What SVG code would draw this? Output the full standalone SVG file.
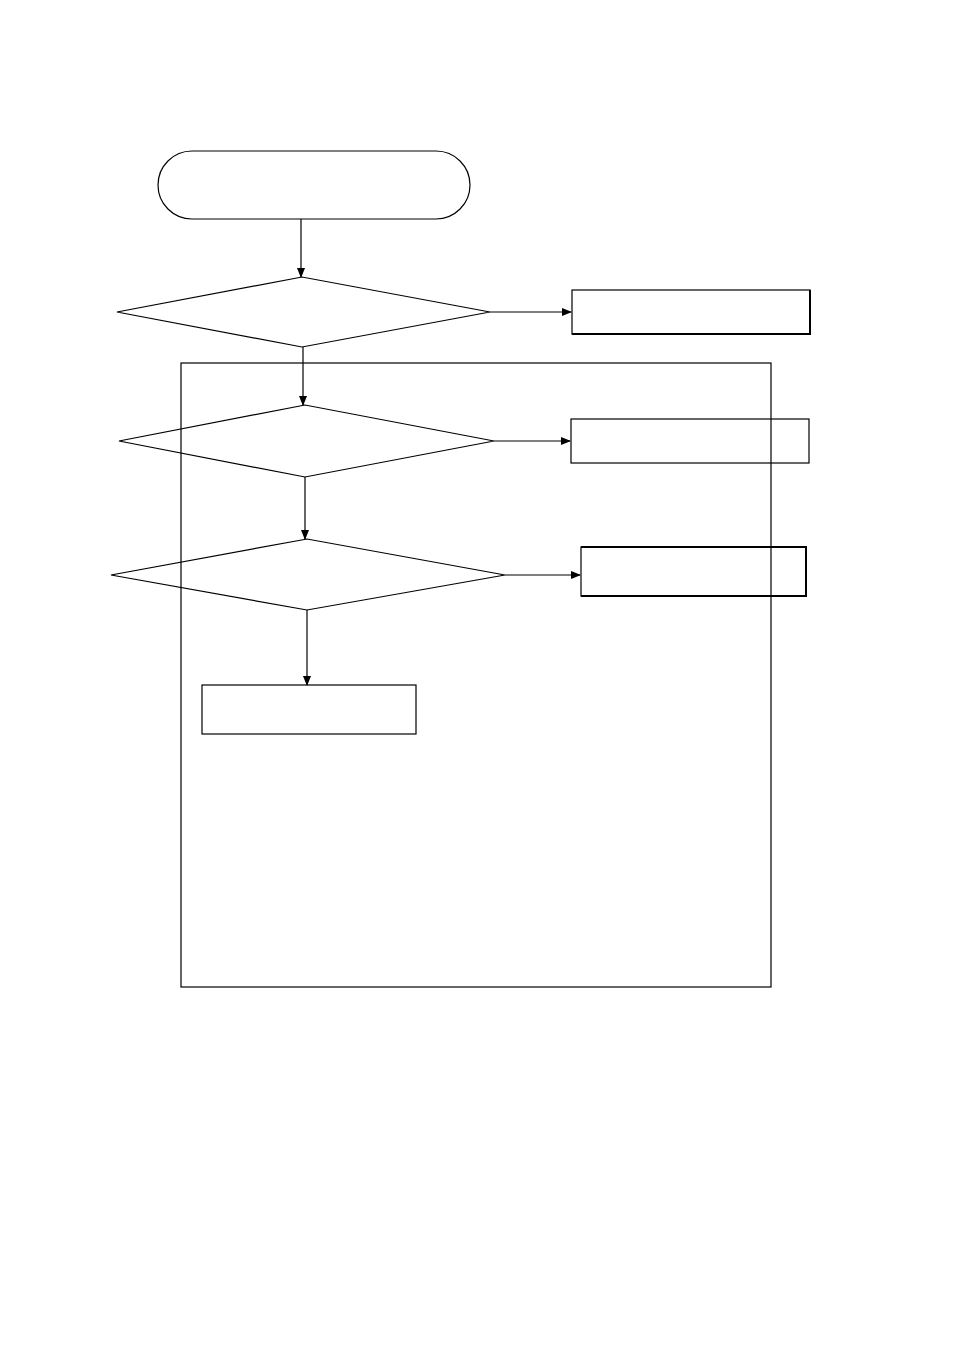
<svg xmlns="http://www.w3.org/2000/svg" width="954" height="1351" viewBox="0 0 954 1351">
<style>
.s{fill:none;stroke:#000;stroke-width:1.2}
.c{stroke:#000;stroke-width:1.2;fill:none}
</style>
<defs><marker id="a" markerWidth="10" markerHeight="8" refX="9" refY="4" orient="auto" markerUnits="userSpaceOnUse"><path d="M0,0L10,4L0,8z" fill="#000"/></marker></defs>
<rect width="954" height="1351" fill="#fff"/>
<g id="frame"><rect class="s" x="181" y="363" width="590" height="624"/></g>
<g id="start"><rect class="s" x="158" y="151" width="312" height="68" rx="34"/></g>
<g id="d1"><polygon class="s" points="117,312 302,277 490,312 302,347"/></g>
<g id="d2"><polygon class="s" points="119,441 305,405 494,441 305,477"/></g>
<g id="d3"><polygon class="s" points="111,575 307,539 505,575 307,610"/></g>
<g id="b1"><rect class="s" x="572" y="290" width="238" height="44"/><path d="M810,290V334H572" stroke="#000" stroke-width="2" fill="none"/></g>
<g id="b2"><rect class="s" x="571" y="419" width="238" height="44"/></g>
<g id="b3"><rect class="s" x="581" y="547" width="225" height="49"/><path d="M581,547H806V596H581" stroke="#000" stroke-width="2" fill="none"/></g>
<g id="b4"><rect class="s" x="202" y="685" width="214" height="49"/></g>
<g id="connectors">
<line class="c" x1="301" y1="219" x2="301" y2="277" marker-end="url(#a)"/>
<line class="c" x1="490" y1="312" x2="571" y2="312" marker-end="url(#a)"/>
<line class="c" x1="303" y1="347" x2="303" y2="405" marker-end="url(#a)"/>
<line class="c" x1="494" y1="441" x2="570" y2="441" marker-end="url(#a)"/>
<line class="c" x1="305" y1="477" x2="305" y2="539" marker-end="url(#a)"/>
<line class="c" x1="505" y1="575" x2="580" y2="575" marker-end="url(#a)"/>
<line class="c" x1="307" y1="610" x2="307" y2="685" marker-end="url(#a)"/>
</g>
</svg>
